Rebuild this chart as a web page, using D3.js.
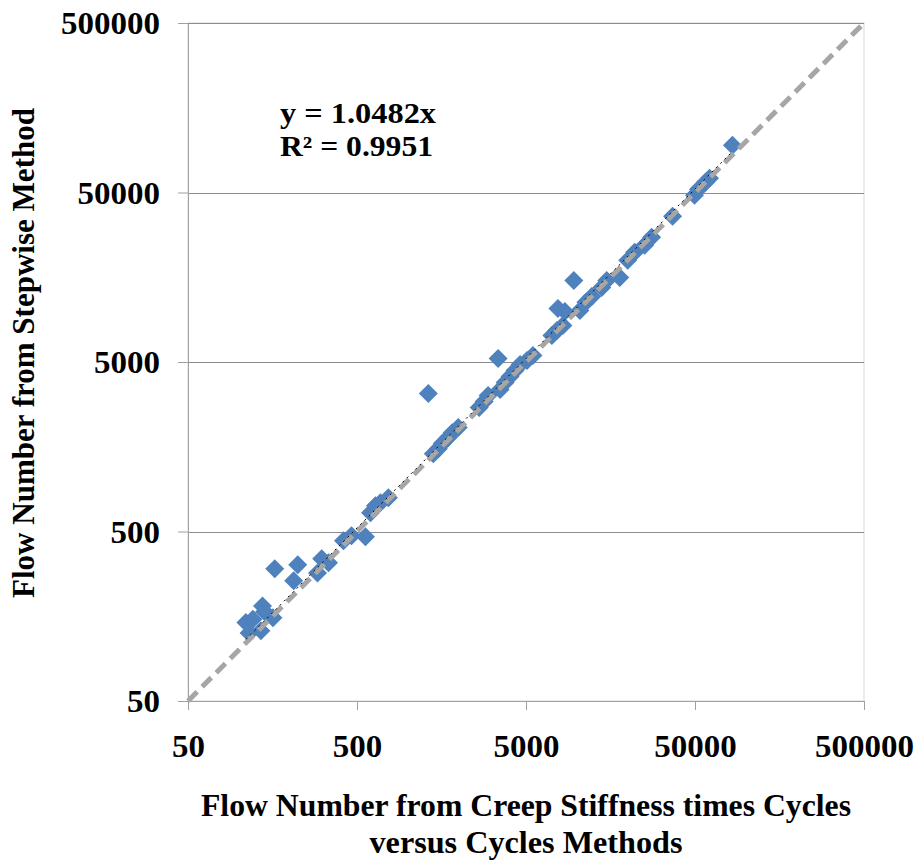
<!DOCTYPE html>
<html><head><meta charset="utf-8">
<script src="https://cdn.jsdelivr.net/npm/d3@7/dist/d3.min.js"></script>
<style>body{margin:0;background:#fff}svg{display:block}</style>
</head><body>
<svg id="c" width="918" height="861"></svg>
<script>
const xValues = [110,115,121,135,138,142,159,163,211,223,292,309,339,416,464,561,601,643,688,767,
  1321,1414,1514,1597,1733,1829,1986,2642,2826,2984,3419,3514,3759,4025,4305,4610,5070,5495,
  7115,7620,8265,7725,8490,9595,10420,11300,12250,14040,15030,17930,19990,21980,25180,27680,
  36830,49650,52450,57650,60900,83250];
const yValues = [145,126,152,130,182,168,155,301,256,318,285,345,327,441,472,465,645,710,740,791,
  3260,1439,1541,1650,1791,1915,2051,2692,2922,3170,5245,3440,3785,4105,4455,4830,5105,5460,
  7175,7675,8220,10350,9935,15150,10070,11240,12190,13770,15150,15780,19900,22180,24400,27220,
  36200,48150,52270,57500,60670,95100];
const tickValues = [50,500,5000,50000,500000];
const tickLabels = ["50","500","5000","50000","500000"];
const slope = 1.0482;
const eqLines = ["y = 1.0482x","R\u00B2 = 0.9951"];
const xTitle = ["Flow Number from Creep Stiffness times Cycles","versus Cycles Methods"];
const yTitle = "Flow Number from Stepwise Method";

const L=188, R=864, T=23, B=701;
const svg = d3.select("#c");
const font = "'Liberation Serif','Times New Roman',serif";
const x = d3.scaleLog().domain([50,500000]).range([L,R]);
const y = d3.scaleLog().domain([50,500000]).range([B,T]);

svg.append("rect").attr("x",L).attr("y",T).attr("width",R-L).attr("height",B-T)
  .attr("fill","none").attr("stroke","#d9d9d9").attr("stroke-width",1);

svg.append("g").selectAll("line").data(tickValues.slice(1)).join("line")
  .attr("x1",L).attr("x2",R).attr("y1",d=>Math.round(y(d))+0.5).attr("y2",d=>Math.round(y(d))+0.5)
  .attr("stroke","#8c8c8c").attr("stroke-width",1);

const xAxis = d3.axisBottom(x).tickValues(tickValues).tickFormat((d,i)=>tickLabels[i]).tickSizeInner(9).tickSizeOuter(0);
const yAxis = d3.axisLeft(y).tickValues(tickValues).tickFormat((d,i)=>tickLabels[i]).tickSizeInner(10).tickSizeOuter(0);
const gx = svg.append("g").attr("transform",`translate(0,${B})`).call(xAxis);
const gy = svg.append("g").attr("transform",`translate(${L},0)`).call(yAxis);
[gx,gy].forEach(g=>{
  g.select(".domain").attr("stroke","#a0a0a0");
  g.selectAll(".tick line").attr("stroke","#a0a0a0");
  g.selectAll("text").attr("font-family",font).attr("font-weight","bold").attr("font-size","31px").attr("fill","#000")
    .attr("textLength",(d,i)=>tickLabels[i].length*16.5).attr("lengthAdjust","spacingAndGlyphs");
});
gx.selectAll("text").attr("dy",0).attr("y",56);
gy.selectAll("text").attr("x",-28).attr("dy","0.34em");

const s = 9.5;
svg.append("g").selectAll("path").data(xValues.map((v,i)=>[v,yValues[i]])).join("path")
  .attr("d",d=>{const cx=x(d[0]), cy=y(d[1]);return `M${cx},${cy-s}L${cx+s},${cy}L${cx},${cy+s}L${cx-s},${cy}Z`;})
  .attr("fill","#4f81bd");

svg.append("line").attr("x1",x(50)).attr("y1",y(50)).attr("x2",x(500000)).attr("y2",y(500000))
  .attr("stroke","#a6a6a6").attr("stroke-width",5).attr("stroke-dasharray","13,7");

const xmin = d3.min(xValues), xmax = d3.max(xValues);
svg.append("line").attr("x1",x(xmin)).attr("y1",y(xmin*slope)).attr("x2",x(xmax)).attr("y2",y(xmax*slope))
  .attr("stroke","#000").attr("stroke-width",1).attr("stroke-dasharray","2,4");

svg.append("g").selectAll("text").data(eqLines).join("text")
  .attr("x",280).attr("y",(d,i)=>123+i*33).text(d=>d)
  .attr("font-family",font).attr("font-weight","bold").attr("font-size","29px")
  .attr("textLength",(d,i)=>i===0?156:153).attr("lengthAdjust","spacingAndGlyphs");

svg.append("g").selectAll("text").data(xTitle).join("text")
  .attr("x",(L+R)/2).attr("y",(d,i)=>816+i*37).attr("text-anchor","middle").text(d=>d)
  .attr("font-family",font).attr("font-weight","bold").attr("font-size","31px")
  .attr("textLength",(d,i)=>i===0?650:313).attr("lengthAdjust","spacingAndGlyphs");

svg.append("text").attr("transform",`translate(34,353) rotate(-90)`).attr("text-anchor","middle")
  .text(yTitle).attr("font-family",font).attr("font-weight","bold").attr("font-size","31px")
  .attr("textLength",490).attr("lengthAdjust","spacingAndGlyphs");
</script>
</body></html>
